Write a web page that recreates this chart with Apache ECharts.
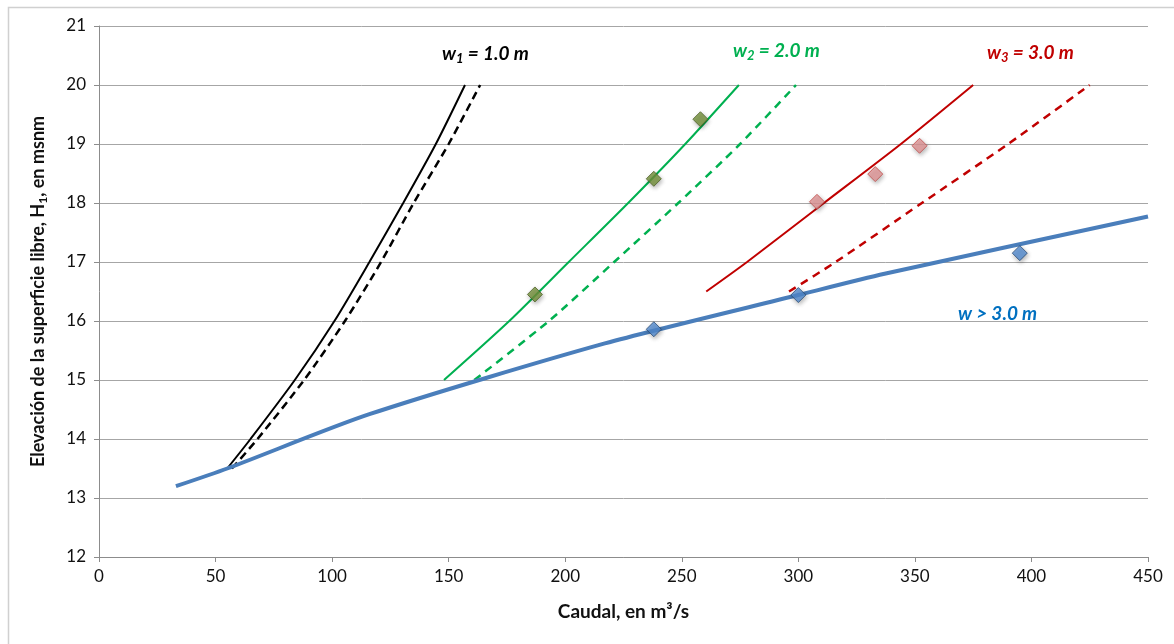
<!DOCTYPE html>
<html>
<head>
<meta charset="utf-8">
<script src="https://cdn.jsdelivr.net/npm/echarts@6/dist/echarts.min.js"></script>
<style>
html,body{margin:0;padding:0;background:#fff;}
#chart{width:1174px;height:644px;}
</style>
</head>
<body>
<div id="chart"></div>
<script>
// ---- Data (Caudal m3/s, Elevación msnm) ----
const xTicks = [0, 50, 100, 150, 200, 250, 300, 350, 400, 450];
const yTicks = [12, 13, 14, 15, 16, 17, 18, 19, 20, 21];

const blueLine = [[33,13.2],[55,13.5],[116,14.42],[217,15.62],[300,16.44],[337,16.8],[450,17.77]];
const blueMarkers = [[238,15.86],[300,16.44],[395,17.15]];

const w1Solid = [[55,13.5],[65,14],[84,15],[101,16],[116,17],[130.5,18],[144.5,19],[157,20]];
const w1Dashed = [[57,13.5],[68,14],[88,15],[105.5,16],[121,17],[135,18],[150,19],[163.5,20]];

const w2Solid = [[148,15],[176,16],[201.5,17],[227,18],[251.5,19],[274.5,20]];
const w2Dashed = [[161,15],[193,16],[221,17],[248.5,18],[275,19],[299,20]];
const w2Markers = [[187,16.45],[238,18.41],[258,19.42]];

const w3Solid = [[260.5,16.5],[278,17],[311,18],[344,19],[375,20]];
const w3Dashed = [[296,16.5],[316,17],[353,18],[390,19],[425,20]];
const w3Markers = [[308,18.02],[333,18.49],[352,18.97]];

const labels = ['{a|w}{s|1}{a| = 1.0 m}','{a|w}{s|2}{a| = 2.0 m}','{a|w}{s|3}{a| = 3.0 m}','{a|w > 3.0 m}'];
const xTitle = 'Caudal, en m\u00b3/s';
const yTitle = '{a|Elevación de la superficie libre, H}{s|1}{a|, en msnm}';

const FONT = 'Lato, "Open Sans", sans-serif';
const chart = echarts.init(document.getElementById('chart'));

function line(data, color, width, type, z){
  return {type:'line', data:data, showSymbol:false, symbol:'none', smooth:0.25,
    lineStyle:{color:color, width:width, type:type, cap:'butt'}, z:z||2, animation:false};
}
function markers(data, fill, border){
  return {type:'scatter', data:data, symbol:'diamond', symbolSize:[15,15],
    itemStyle:{color:fill, borderColor:border, borderWidth:1, shadowColor:'rgba(0,0,0,0.35)', shadowBlur:4, shadowOffsetX:1, shadowOffsetY:2},
    z:5, animation:false};
}
function labelText(txt, color, left, top){
  return {type:'text', left:left, top:top, style:{text:txt, fill:color,
    rich:{
      a:{fontFamily:FONT, fontSize:19, fontStyle:'italic', fontWeight:'bold', color:color, lineHeight:24, verticalAlign:'middle'},
      s:{fontFamily:FONT, fontSize:13, fontStyle:'italic', fontWeight:'bold', color:color, lineHeight:12, verticalAlign:'bottom'}
    }}};
}

chart.setOption({
  backgroundColor:'#ffffff',
  animation:false,
  grid:{left:99, right:26, top:26, bottom:87, containLabel:false},
  xAxis:{type:'value', min:0, max:450, interval:50,
    axisLine:{show:true, lineStyle:{color:'#8c8c8c', width:1}},
    axisTick:{show:true, length:5, lineStyle:{color:'#8c8c8c'}},
    axisLabel:{color:'#111111', fontSize:17, fontFamily:FONT, margin:11,
      formatter:function(v){return xTicks.indexOf(v)>=0?String(v):'';}},
    splitLine:{show:false},
    name:xTitle, nameLocation:'middle', nameGap:45,
    nameTextStyle:{color:'#111111', fontSize:19, fontWeight:'bold', fontFamily:FONT}
  },
  yAxis:{type:'value', min:12, max:21, interval:1,
    axisLine:{show:true, lineStyle:{color:'#8c8c8c', width:1}},
    axisTick:{show:true, length:5, lineStyle:{color:'#8c8c8c'}},
    axisLabel:{color:'#111111', fontSize:17, fontFamily:FONT, margin:13,
      formatter:function(v){return yTicks.indexOf(v)>=0?String(v):'';}},
    splitLine:{show:true, lineStyle:{color:'#a6a6a6', width:1}},
    name:yTitle, nameLocation:'middle', nameGap:50,
    nameTextStyle:{color:'#111111', fontSize:18, fontWeight:'bold', fontFamily:FONT,
      rich:{
        a:{fontFamily:FONT, fontSize:18, fontWeight:'bold', color:'#111111', lineHeight:22, verticalAlign:'middle'},
        s:{fontFamily:FONT, fontSize:12, fontWeight:'bold', color:'#111111', lineHeight:11, verticalAlign:'bottom'}
      }}
  },
  series:[
    line(blueLine, '#4a7ebb', 4, 'solid', 3),
    line(w1Solid, '#000000', 2, 'solid'),
    line(w1Dashed, '#000000', 2.5, [8,5]),
    line(w2Solid, '#00b050', 2, 'solid'),
    line(w2Dashed, '#00b050', 2.5, [8,6]),
    line(w3Solid, '#c00000', 2, 'solid'),
    line(w3Dashed, '#c00000', 2.5, [8,6]),
    markers(blueMarkers, '#558ed5', '#2c4d75'),
    markers(w2Markers, '#77933c', '#4f6228'),
    markers(w3Markers, '#e6999a', '#c0504d')
  ],
  graphic:[
    {type:'rect', left:6, top:5, shape:{width:1200, height:700}, style:{fill:'none', stroke:'#d0d0d0', lineWidth:1.5}, silent:true, z:-10},
    labelText(labels[0], '#000000', 442, 44),
    labelText(labels[1], '#00b050', 733, 41),
    labelText(labels[2], '#c00000', 987, 43),
    labelText(labels[3], '#0070c0', 958, 304)
  ]
});
</script>
</body>
</html>
